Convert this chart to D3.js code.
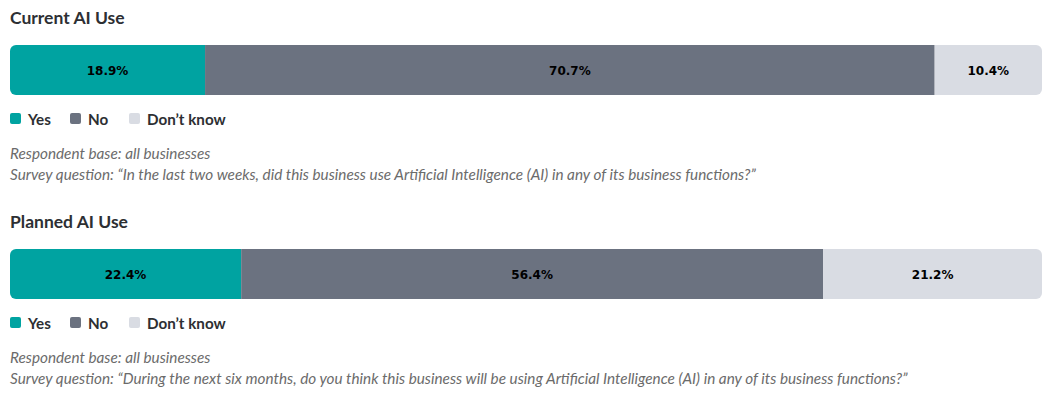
<!DOCTYPE html>
<html><head><meta charset="utf-8">
<script src="https://cdn.jsdelivr.net/npm/d3@7"></script>
<style>body{margin:0;background:#fff;}svg{display:block;}</style>
</head><body>
<script>
const titles = ["Current AI Use", "Planned AI Use"];
const categories = ["Yes", "No", "Don\u2019t know"];
const currentValues = [18.9, 70.7, 10.4];
const plannedValues = [22.4, 56.4, 21.2];
const baseNotes = ["Respondent base: all businesses", "Respondent base: all businesses"];
const questions = [
  "Survey question: \u201CIn the last two weeks, did this business use Artificial Intelligence (AI) in any of its business functions?\u201D",
  "Survey question: \u201CDuring the next six months, do you think this business will be using Artificial Intelligence (AI) in any of its business functions?\u201D"
];
const colors = ["#00a3a1", "#6b7280", "#d9dce3"];

const W = 1052, H = 396;
const svg = d3.select("body").append("svg").attr("width", W).attr("height", H);
const x = d3.scaleLinear().domain([0, 100]).range([10, 1042]);
const color = d3.scaleOrdinal().domain(categories).range(colors);
const fontMain = "Lato, 'Open Sans', sans-serif";

[currentValues, plannedValues].forEach((vals, i) => {
  const g = svg.append("g").attr("transform", `translate(0,${i * 204})`);
  g.append("text").attr("x", 10).attr("y", 24).text(titles[i])
    .attr("font-family", fontMain).attr("font-weight", 700).attr("font-size", 17.5).attr("fill", "#2d2f33");
  const stack = [];
  let acc = 0;
  vals.forEach((v, j) => { stack.push({cat: categories[j], v, x0: acc, x1: acc + v}); acc += v; });
  const clipId = "clip" + i;
  g.append("clipPath").attr("id", clipId).append("rect")
    .attr("x", x(0)).attr("y", 45).attr("width", x(100) - x(0)).attr("height", 50).attr("rx", 6);
  const bars = g.append("g").attr("clip-path", `url(#${clipId})`);
  bars.selectAll("rect").data(stack).join("rect")
    .attr("x", d => x(d.x0)).attr("width", d => x(d.x1) - x(d.x0))
    .attr("y", 45).attr("height", 50).attr("fill", d => color(d.cat));
  g.selectAll("text.lbl").data(stack).join("text").attr("class", "lbl")
    .attr("x", d => (x(d.x0) + x(d.x1)) / 2).attr("y", 75)
    .attr("text-anchor", "middle").attr("font-family", "'DejaVu Sans', sans-serif")
    .attr("font-weight", 700).attr("font-size", 12).attr("fill", "#000")
    .text(d => d.v.toFixed(1) + "%");
  // legend
  const legX = [10, 70, 129];
  const lg = g.selectAll("g.leg").data(categories).join("g").attr("class", "leg")
    .attr("transform", (d, j) => `translate(${legX[j]},113)`);
  lg.append("rect").attr("width", 11).attr("height", 11).attr("rx", 2).attr("fill", d => color(d));
  lg.append("text").attr("x", 18).attr("y", 11.5).text(d => d)
    .attr("font-family", fontMain).attr("font-weight", 700).attr("font-size", 15.2).attr("fill", "#2d2f33");
  g.append("text").attr("x", 10).attr("y", 159).text(baseNotes[i])
    .attr("font-family", fontMain).attr("font-style", "italic").attr("font-size", 15.3).attr("fill", "#6b6b6b");
  g.append("text").attr("x", 10).attr("y", 180).text(questions[i])
    .attr("font-family", fontMain).attr("font-style", "italic").attr("font-size", 15.3).attr("fill", "#6b6b6b");
});
</script>
</body></html>
